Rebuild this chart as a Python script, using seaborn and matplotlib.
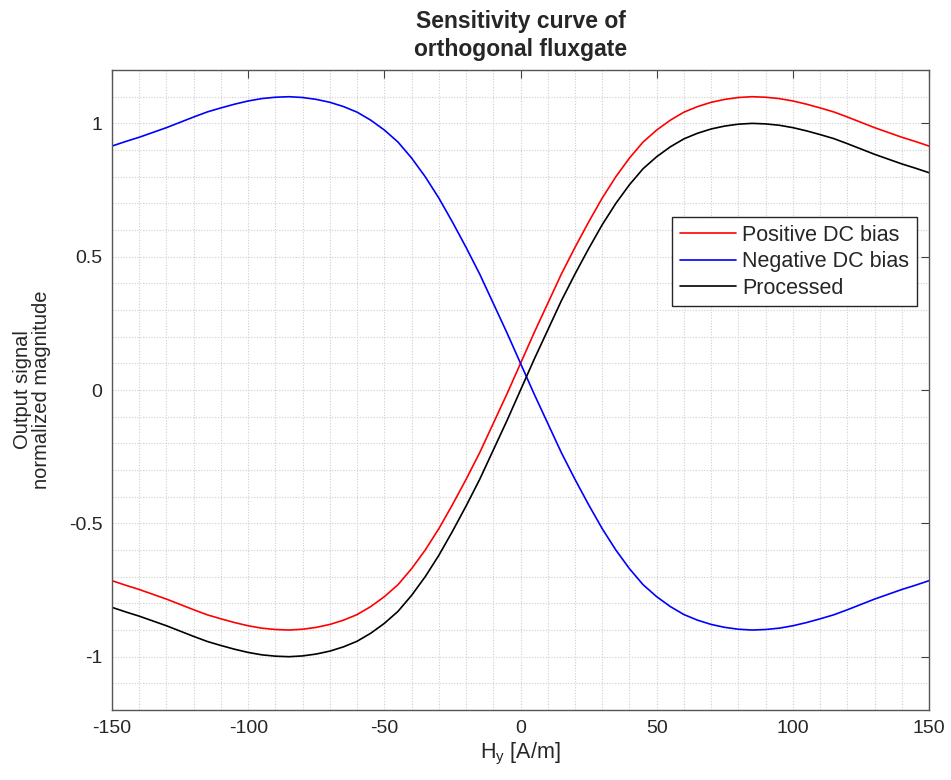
import numpy as np
import pandas as pd
import matplotlib
matplotlib.use("Agg")
import matplotlib.pyplot as plt
import seaborn as sns

# ---- data ----
h_field = [-150, -145, -140, -135, -130, -125, -120, -115, -110, -105,
           -100, -95, -90, -85, -80, -75, -70, -65, -60, -55,
           -50, -45, -40, -35, -30, -25, -20, -15, -10, -5,
           0, 5, 10, 15, 20, 25, 30, 35, 40, 45,
           50, 55, 60, 65, 70, 75, 80, 85, 90, 95,
           100, 105, 110, 115, 120, 125, 130, 135, 140, 145, 150]

processed = [-0.815, -0.832, -0.848, -0.866, -0.884, -0.904, -0.924, -0.943, -0.958, -0.972,
             -0.984, -0.993, -0.998, -1.000, -0.997, -0.990, -0.979, -0.963, -0.942, -0.912,
             -0.875, -0.830, -0.770, -0.700, -0.620, -0.530, -0.435, -0.335, -0.225, -0.115,
             0.000, 0.115, 0.225, 0.335, 0.435, 0.530, 0.620, 0.700, 0.770, 0.830,
             0.875, 0.912, 0.942, 0.963, 0.979, 0.990, 0.997, 1.000, 0.998, 0.993,
             0.984, 0.972, 0.958, 0.943, 0.924, 0.904, 0.884, 0.866, 0.848, 0.832, 0.815]

positive_bias = [-0.715, -0.732, -0.748, -0.766, -0.784, -0.804, -0.824, -0.843, -0.858, -0.872,
                 -0.884, -0.893, -0.898, -0.900, -0.897, -0.890, -0.879, -0.863, -0.842, -0.812,
                 -0.775, -0.730, -0.670, -0.600, -0.520, -0.430, -0.335, -0.235, -0.125, -0.015,
                 0.100, 0.215, 0.325, 0.435, 0.535, 0.630, 0.720, 0.800, 0.870, 0.930,
                 0.975, 1.012, 1.042, 1.063, 1.079, 1.090, 1.097, 1.100, 1.098, 1.093,
                 1.084, 1.072, 1.058, 1.043, 1.024, 1.004, 0.984, 0.966, 0.948, 0.932, 0.915]

negative_bias = [0.915, 0.932, 0.948, 0.966, 0.984, 1.004, 1.024, 1.043, 1.058, 1.072,
                 1.084, 1.093, 1.098, 1.100, 1.097, 1.090, 1.079, 1.063, 1.042, 1.012,
                 0.975, 0.930, 0.870, 0.800, 0.720, 0.630, 0.535, 0.435, 0.325, 0.215,
                 0.100, -0.015, -0.125, -0.235, -0.335, -0.430, -0.520, -0.600, -0.670, -0.730,
                 -0.775, -0.812, -0.842, -0.863, -0.879, -0.890, -0.897, -0.900, -0.898, -0.893,
                 -0.884, -0.872, -0.858, -0.843, -0.824, -0.804, -0.784, -0.766, -0.748, -0.732, -0.715]

series_names = ["Positive DC bias", "Negative DC bias", "Processed"]
series_colors = ["#FF0000", "#0000FF", "#000000"]

x_ticks = [-150, -100, -50, 0, 50, 100, 150]
x_tick_labels = ["-150", "-100", "-50", "0", "50", "100", "150"]
y_ticks = [-1, -0.5, 0, 0.5, 1]
y_tick_labels = ["-1", "-0.5", "0", "0.5", "1"]

title_text = "Sensitivity curve of\northogonal fluxgate"
x_label = r"H$_\mathregular{y}$ [A/m]"
y_label = "Output signal\nnormalized magnitude"

# ---- build table ----
df = pd.concat([
    pd.DataFrame({"H": h_field, "value": positive_bias, "series": series_names[0]}),
    pd.DataFrame({"H": h_field, "value": negative_bias, "series": series_names[1]}),
    pd.DataFrame({"H": h_field, "value": processed, "series": series_names[2]}),
], ignore_index=True)

sns.set_style("white")
plt.rcParams["font.family"] = ["Liberation Sans", "DejaVu Sans"]
plt.rcParams["mathtext.fontset"] = "custom"
plt.rcParams["mathtext.rm"] = "Liberation Sans"

fig = plt.figure(figsize=(9.51, 7.80), dpi=100)
ax = fig.add_axes([0.1178, 0.0897, 0.8591, 0.8205])

sns.lineplot(data=df, x="H", y="value", hue="series", hue_order=series_names,
             palette=dict(zip(series_names, series_colors)), linewidth=1.2,
             ax=ax, sort=False, estimator=None)

ax.set_xlim(-150, 150)
ax.set_ylim(-1.2, 1.2)
ax.set_xticks(x_ticks)
ax.set_xticklabels(x_tick_labels)
ax.set_yticks(y_ticks)
ax.set_yticklabels(y_tick_labels)
ax.set_xticks(np.arange(-150, 151, 10), minor=True)
ax.set_yticks(np.arange(-1.2, 1.21, 0.1), minor=True)

ax.grid(which="both", linestyle=(0, (1, 1.5)), color="#cfcfcf", linewidth=0.8)
ax.set_axisbelow(True)
ax.tick_params(which="major", direction="in", length=6, width=0.8, color="#404040",
               top=True, right=True, labelsize=14, pad=7, labelcolor="#262626")
ax.tick_params(which="minor", length=0)
for sp in ax.spines.values():
    sp.set_color("#555555")
    sp.set_linewidth(1.0)

ax.set_title(title_text, fontsize=16.5, fontweight="bold", pad=10, linespacing=1.3)
ax.set_xlabel(x_label, fontsize=15.5, color="#262626", labelpad=3)
ax.set_ylabel(y_label, fontsize=14.5, color="#262626", labelpad=13, linespacing=1.0)

leg = ax.legend(loc="upper right", bbox_to_anchor=(0.985, 0.770), fontsize=15.5,
                frameon=True, fancybox=False, edgecolor="#262626", framealpha=1,
                handlelength=2.6, borderpad=0.35, labelspacing=0.25, handletextpad=0.3,
                borderaxespad=0)
leg.get_frame().set_linewidth(1.0)

fig.savefig("out.png", dpi=100)
